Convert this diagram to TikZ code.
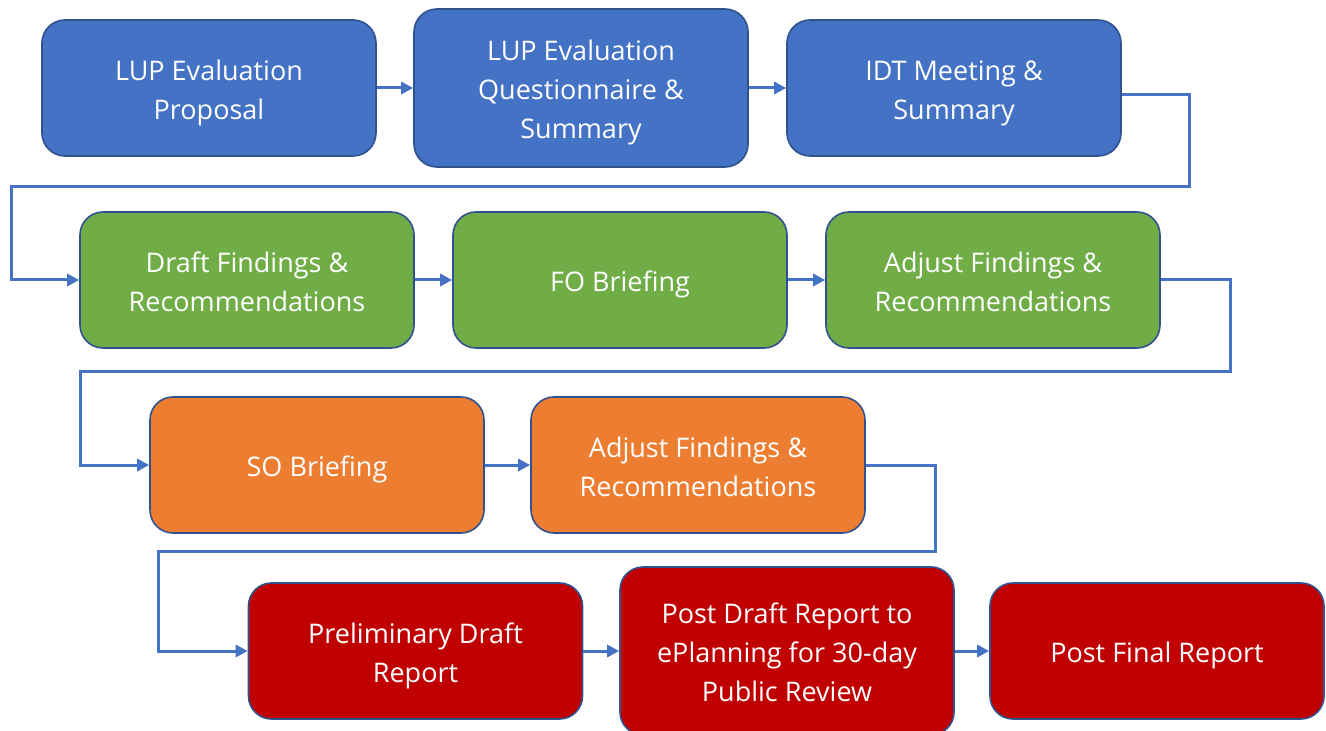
\documentclass[tikz,border=0pt]{standalone}
\usepackage{fontspec}
\setmainfont{Open Sans}
\usetikzlibrary{arrows.meta,calc}
\definecolor{cblue}{HTML}{4472C4}
\definecolor{cgreen}{HTML}{70AD47}
\definecolor{corange}{HTML}{ED7D31}
\definecolor{cred}{HTML}{C00000}
\definecolor{cedge}{HTML}{2F528F}
\definecolor{clink}{HTML}{4472C4}
% centred lines of a box label, set a little below the box centre
\newcommand\boxlines[1]{\raisebox{-2pt}[\height][\depth]{\begin{tabular}{@{}c@{}}#1\end{tabular}}}
\tikzset{
  stepbox/.style={draw=cedge, line width=0.8pt, rounded corners=11.5pt,
    minimum width=167pt, minimum height=68pt, inner sep=2pt,
    text=white, font=\fontsize{13.5pt}{19.5pt}\selectfont},
  bluebox/.style={stepbox, fill=cblue},
  greenbox/.style={stepbox, fill=cgreen},
  orangebox/.style={stepbox, fill=corange},
  redbox/.style={stepbox, fill=cred},
  link/.style={draw=clink, line width=1.5pt,
    -{Triangle[length=6pt,width=6pt]}},
}
\begin{document}
\begin{tikzpicture}[x=0.5pt, y=-0.5pt]
\useasboundingbox (0,0) rectangle (1326,731);
\begin{scope}
\clip (0,0) rectangle (1326,731);
% row 1
\node[bluebox] (A) at (209,88) {\boxlines{LUP Evaluation\\Proposal}};
\node[bluebox, minimum height=79pt] (B) at (581,88) {\boxlines{LUP Evaluation\\Questionnaire \&\\Summary}};
\node[bluebox] (C) at (954,88) {\boxlines{IDT Meeting \&\\Summary}};
% row 2
\node[greenbox] (D) at (247,280) {\boxlines{Draft Findings \&\\Recommendations}};
\node[greenbox] (E) at (620,280) {\boxlines{FO Briefing}};
\node[greenbox] (F) at (993,280) {\boxlines{Adjust Findings \&\\Recommendations}};
% row 3
\node[orangebox] (G) at (317,465) {\boxlines{SO Briefing}};
\node[orangebox] (H) at (698,465) {\boxlines{Adjust Findings \&\\Recommendations}};
% row 4
\node[redbox] (I) at (415.5,651) {\boxlines{Preliminary Draft\\Report}};
\node[redbox, minimum height=84pt] (J) at (787,651) {\boxlines{Post Draft Report to\\ePlanning for 30-day\\Public Review}};
\node[redbox] (K) at (1157,651) {\boxlines{Post Final Report}};
\end{scope}
% connectors within rows
\draw[link] (A) -- (B);
\draw[link] (B) -- (C);
\draw[link] (D) -- (E);
\draw[link] (E) -- (F);
\draw[link] (G) -- (H);
\draw[link] (I) -- (J);
\draw[link] (J) -- (K);
% connectors wrapping to the next row
\coordinate (c1) at ($(C.east)+(0,7)$);
\draw[link] (c1) -- (1189,95) -- (1189,187) -- (11,187) -- (11,280) -- (D.west);
\draw[link] (F.east) -- (1230,280) -- (1230,372) -- (80,372) -- (80,465) -- (G.west);
\draw[link] (H.east) -- (935,465) -- (935,551) -- (158,551) -- (158,651) -- (I.west);
\end{tikzpicture}
\end{document}
